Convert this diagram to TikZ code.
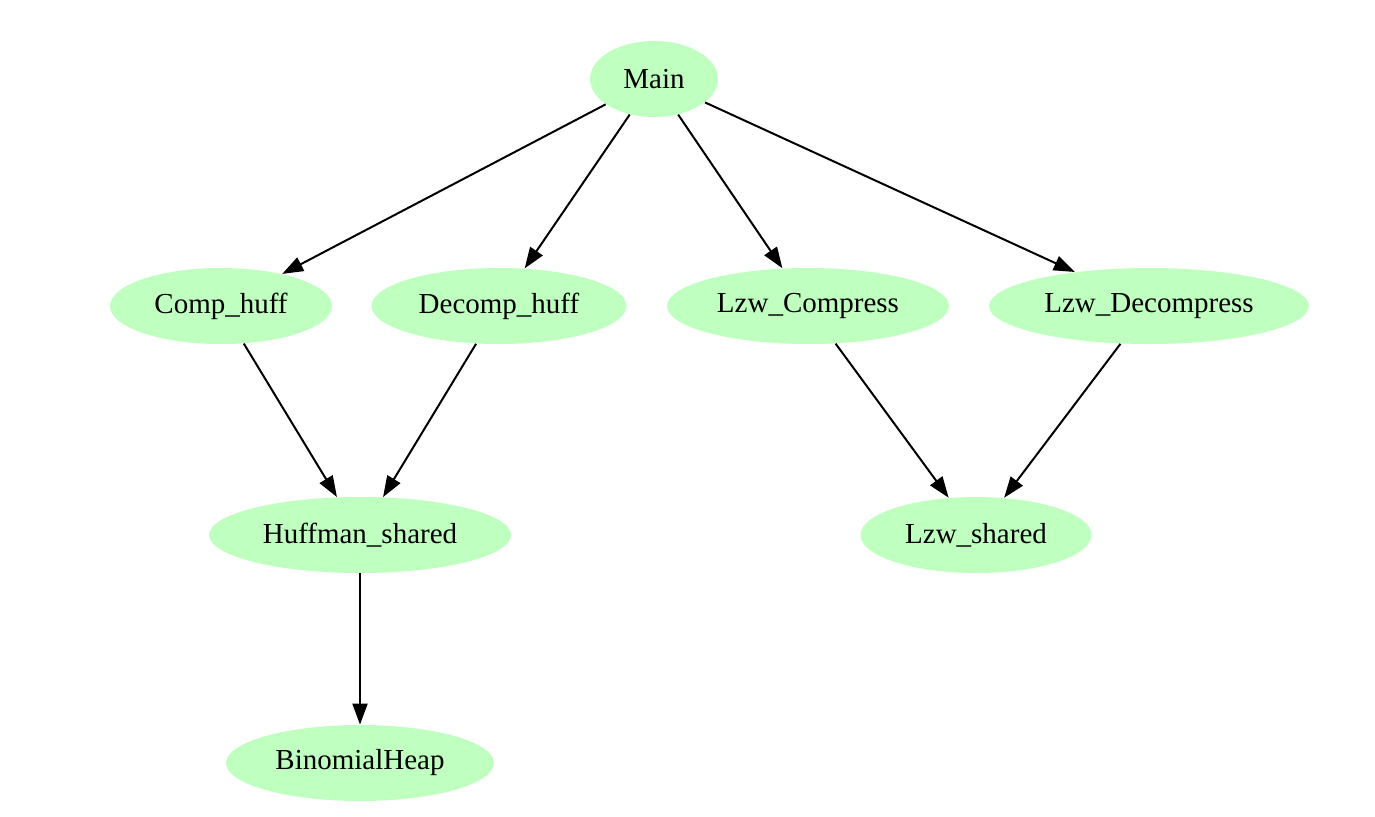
\documentclass[tikz,border=0pt]{standalone}
\usepackage{fontspec}
\setmainfont{Liberation Serif}
\usetikzlibrary{shapes.geometric,arrows.meta}
\definecolor{nodegreen}{RGB}{191,255,191}
\begin{document}
\begin{tikzpicture}[x=0.5pt,y=-0.5pt,
  gnode/.style={ellipse,fill=nodegreen,draw=none,inner sep=0pt,minimum height=38pt,
    font=\fontsize{14.5pt}{17pt}\selectfont},
  edge/.style={line width=1pt,-{Triangle[length=10.5pt,width=7.5pt]}}]
\useasboundingbox (0,0) rectangle (1375,816);
\node[gnode,minimum width=64pt] (main) at (654,79) {Main};
\node[gnode,minimum width=111pt] (comp) at (221,306) {Comp\_huff};
\node[gnode,minimum width=127.5pt] (decomp) at (499,306) {Decomp\_huff};
\node[gnode,minimum width=141pt] (lzwc) at (808,306) {Lzw\_Compress};
\node[gnode,minimum width=160pt] (lzwd) at (1149,306) {Lzw\_Decompress};
\node[gnode,minimum width=151pt] (huff) at (360,535) {Huffman\_shared};
\node[gnode,minimum width=115.5pt] (lzws) at (976,535) {Lzw\_shared};
\node[gnode,minimum width=134pt] (binom) at (360,763) {BinomialHeap};
\draw[edge] (main) -- (comp);
\draw[edge] (main) -- (decomp);
\draw[edge] (main) -- (lzwc);
\draw[edge] (main) -- (lzwd);
\draw[edge] (comp) -- (huff);
\draw[edge] (decomp) -- (huff);
\draw[edge] (lzwc) -- (lzws);
\draw[edge] (lzwd) -- (lzws);
\draw[edge] (huff) -- (binom);
\end{tikzpicture}
\end{document}
